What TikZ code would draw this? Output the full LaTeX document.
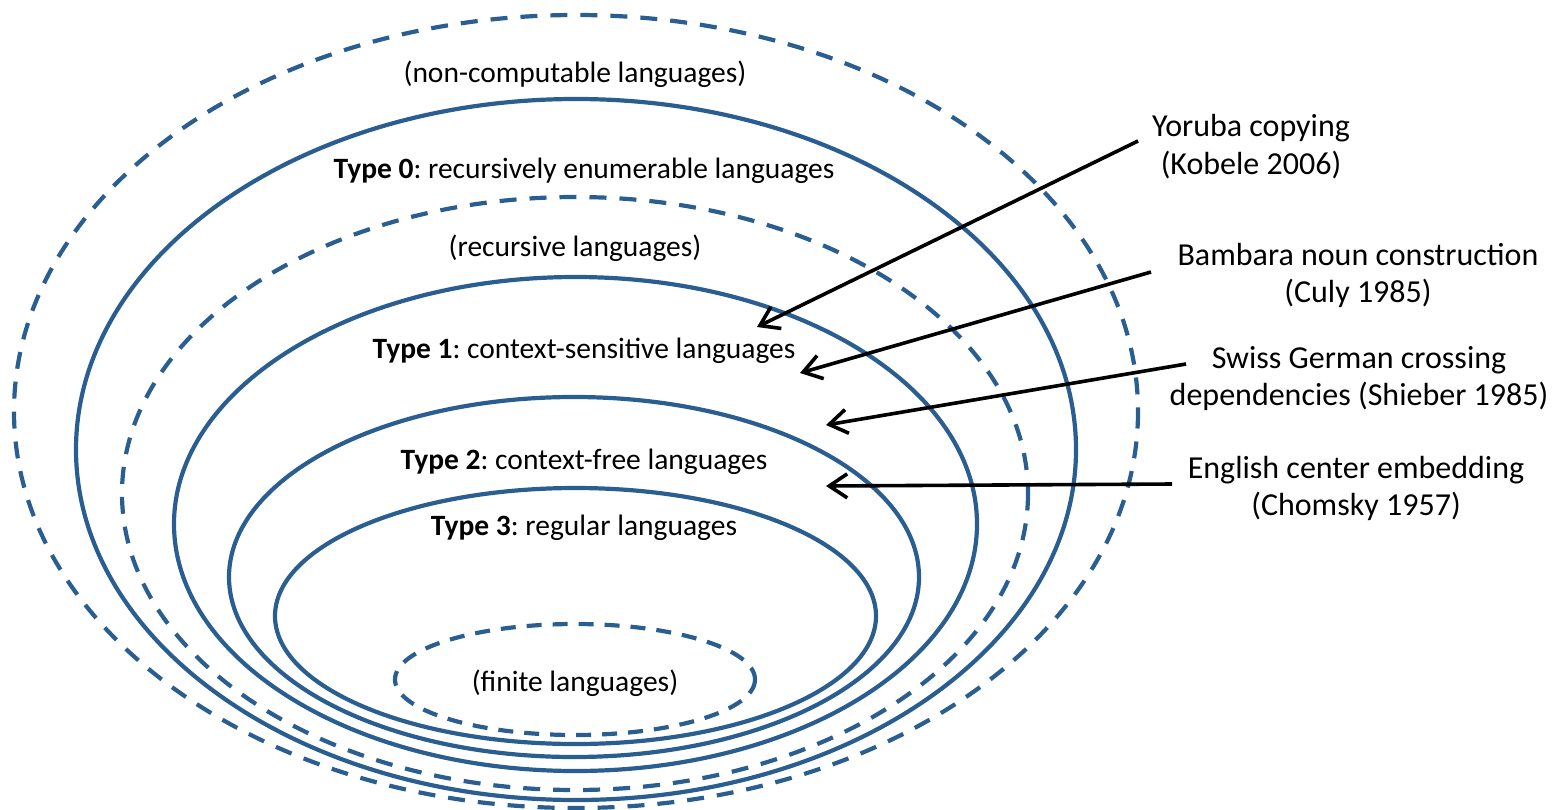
\documentclass[tikz,border=0pt]{standalone}
\usepackage{fontspec}
\setmainfont{Carlito}
\usetikzlibrary{arrows.meta}
\definecolor{setblue}{RGB}{42,94,145}
\tikzset{
  setline/.style={draw=setblue, line width=4.2pt},
  setdash/.style={setline, dash pattern=on 17pt off 13pt},
  lbl/.style={font=\fontsize{29.5}{36}\selectfont, inner sep=0pt, align=center},
  rlbl/.style={font=\fontsize{32}{37.5}\selectfont, inner sep=0pt, align=center},
  pointer/.style={draw=black, line width=3.6pt, -{Straight Barb[length=18pt,width=24pt,line width=3.6pt]}}
}
\begin{document}
\frenchspacing
\begin{tikzpicture}[x=1pt,y=-1pt]
\useasboundingbox (0,0) rectangle (1552,809);
% ellipses
\draw[setdash] (576,411.5) ellipse [x radius=562, y radius=396.5];
\draw[setline] (576,449.5) ellipse [x radius=500, y radius=350.5];
\draw[setdash] (575,493.5) ellipse [x radius=453, y radius=296.5];
\draw[setline] (575.5,524) ellipse [x radius=401.5, y radius=247];
\draw[setline] (574,577) ellipse [x radius=345, y radius=180];
\draw[setline] (575.5,616) ellipse [x radius=300.5, y radius=128];
\draw[setdash, dash pattern=on 15pt off 11pt] (575,679.5) ellipse [x radius=180, y radius=55.5];
% ellipse labels
\node[lbl] (noncomp) at (575,74) {(non-computable languages)};
\node[lbl] (type0) at (584,171) {\textbf{Type 0}: recursively enumerable languages};
\node[lbl] (recur) at (575,248) {(recursive languages)};
\node[lbl] (type1) at (584,351) {\textbf{Type 1}: context-sensitive languages};
\node[lbl] (type2) at (584,462) {\textbf{Type 2}: context-free languages};
\node[lbl] (type3) at (584,528) {\textbf{Type 3}: regular languages};
\node[lbl] (finite) at (575,683) {(finite languages)};
% right labels
\node[rlbl] (yoruba) at (1251,146.5) {Yoruba copying\\(Kobele 2006)};
\node[rlbl] (bambara) at (1358,275.5) {Bambara noun construction\\(Culy 1985)};
\node[rlbl] (swiss) at (1359,378.5) {Swiss German crossing\\dependencies (Shieber 1985)};
\node[rlbl] (english) at (1356,488.5) {English center embedding\\(Chomsky 1957)};
% arrow ends
\coordinate (ys) at (1138,141);
\coordinate (yt) at (757,327);
\coordinate (bs) at (1151,272);
\coordinate (bt) at (800,373);
\coordinate (ss) at (1186,364);
\coordinate (st) at (826,425);
\coordinate (es) at (1172,484);
\coordinate (et) at (826,486);
\draw[pointer] (ys) -- (yt);
\draw[pointer] (bs) -- (bt);
\draw[pointer] (ss) -- (st);
\draw[pointer] (es) -- (et);
\end{tikzpicture}
\end{document}
